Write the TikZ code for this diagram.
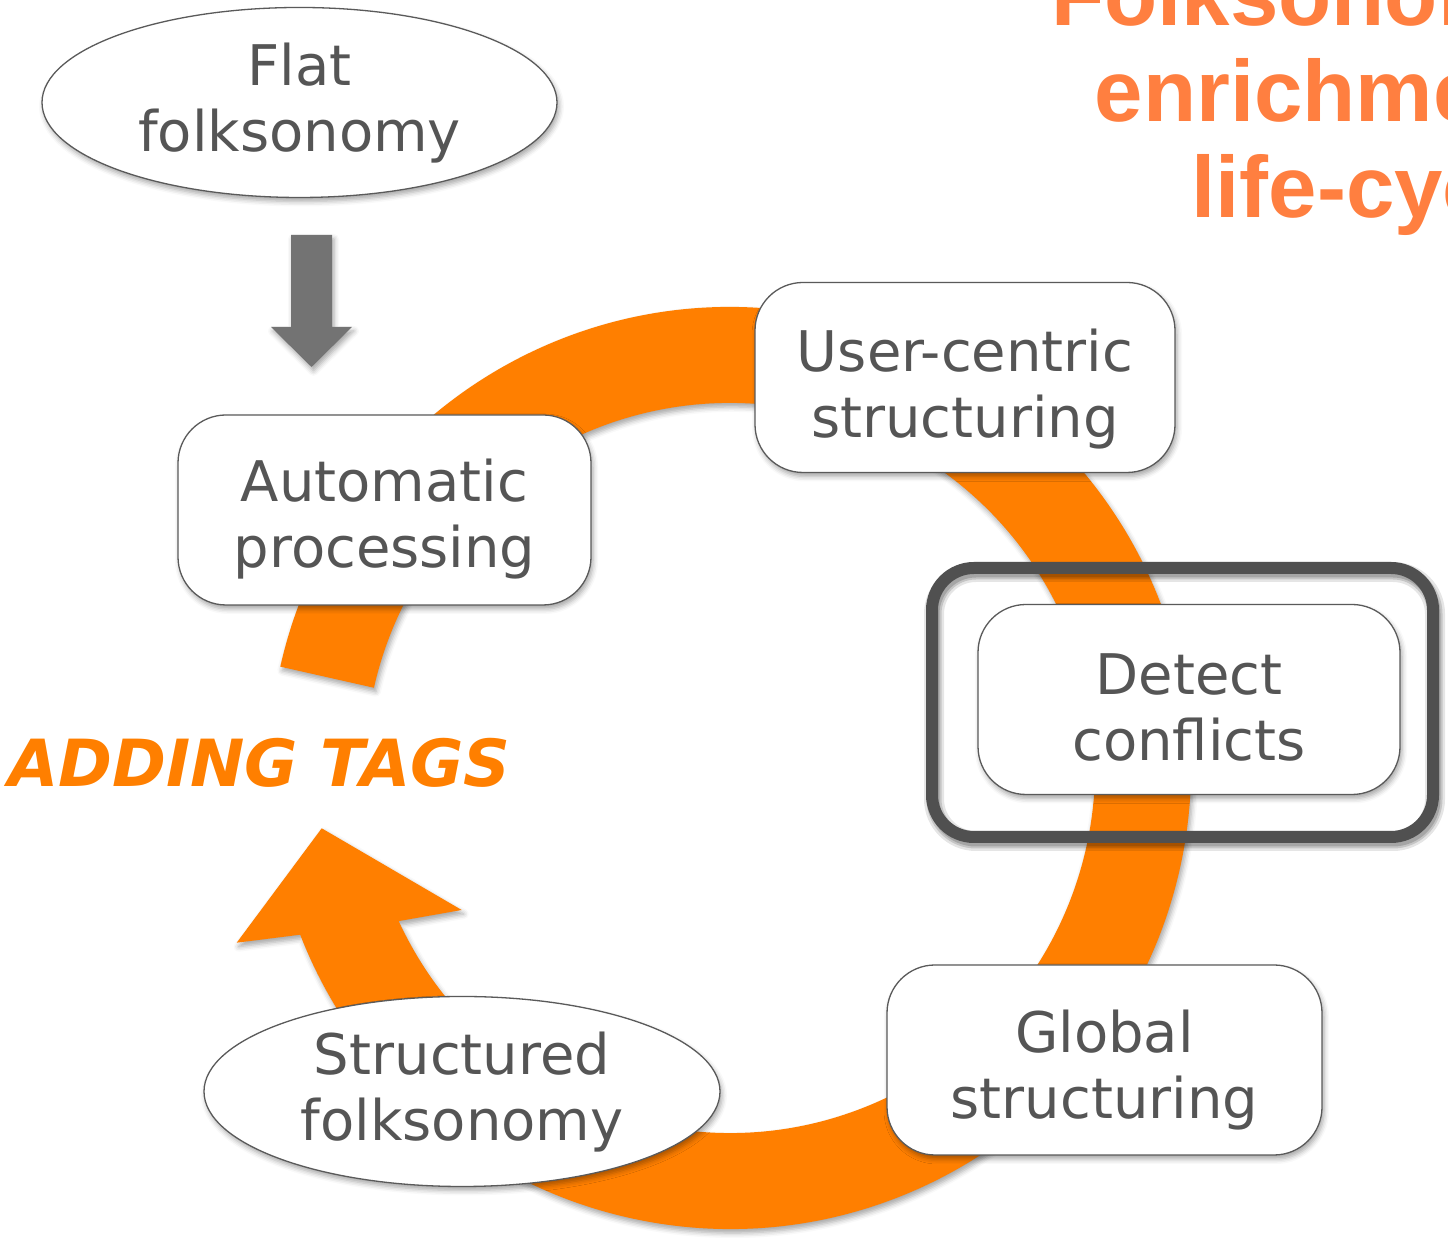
\documentclass[tikz,border=0pt]{standalone}
\usepackage{fontspec}
\setmainfont{DejaVu Sans}
\newfontfamily\titlefont{Liberation Sans}
\usetikzlibrary{shapes.geometric,shadows.blur}
\definecolor{ringorange}{HTML}{FF7F00}
\definecolor{titleorange}{HTML}{FF7F40}
\definecolor{txtgray}{HTML}{555555}
\definecolor{bordergray}{HTML}{5A5A5A}
\definecolor{framegray}{HTML}{505050}
\definecolor{arrowgray}{HTML}{737373}
\tikzset{
  softshadow/.style={blur shadow={shadow xshift=2pt, shadow yshift=-4pt, shadow blur radius=5pt, shadow opacity=35}},
  shapetext/.style={text=txtgray, align=center, inner sep=0pt, font={\fontsize{56}{66}\selectfont}},
  stepbox/.style={shapetext, draw=bordergray, line width=1.3pt, fill=white, rounded corners=48pt, softshadow, minimum width=#1, minimum height=190pt},
  ellbox/.style={shapetext, ellipse, draw=bordergray, line width=1.3pt, fill=white, softshadow, minimum width=515pt, minimum height=190pt, text height=99pt, text depth=0pt},
  tpos/.style={text height=150pt, text depth=#1},
  titletext/.style={text=titleorange, inner sep=0pt, anchor=base east, font={\titlefont\bfseries\fontsize{87}{96}\selectfont}},
  frameshadow/.style={black, opacity=#1, rounded corners=42pt}
}
\begin{document}
\begin{tikzpicture}[x=1pt,y=1pt]
\useasboundingbox (0,0) rectangle (1448,1238);
\clip (0,0) rectangle (1448,1238);

% orange cycle ring with arrow head
\begin{scope}[shift={(730,470)}]
\fill[ringorange, softshadow] (167.3:461) arc[start angle=167.3, end angle=-158.8, radius=461]
  -- (-493.3,-174.7) -- (-408.3,-60.3) -- (-268.3,-142)
  -- (-155.2:365) arc[start angle=-155.2, end angle=167.3, radius=365] -- cycle;
\end{scope}

% title
\node[titletext] (t1) at (1564,1212) {Folksonomy};
\node[titletext] (t2) at (1564,1116) {enrichment};
\node[titletext] (t3) at (1564,1020) {life-cycle};

% adding tags
\node[anchor=base west, inner sep=0pt, text=ringorange, font={\bfseries\itshape\fontsize{65}{72}\selectfont}] (adding) at (8,451) {ADDING TAGS};

% highlight frame with soft shadow
\draw[frameshadow=0.10, line width=20pt] (934,666) rectangle (1435,397);
\draw[frameshadow=0.14, line width=15pt] (934,666) rectangle (1435,397);
\draw[frameshadow=0.16, line width=11pt] (934,666) rectangle (1435,397);
\draw[framegray, line width=12pt, rounded corners=42pt] (932,670) rectangle (1433,401);

% nodes
\node[ellbox] (flat) at (299.5,1135.5) {Flat\\folksonomy};
\node[stepbox=413pt, tpos=34pt] (auto) at (384.5,728) {Automatic\\processing};
\node[stepbox=420pt, tpos=29pt] (user) at (965,860.5) {User-centric\\structuring};
\node[stepbox=422pt, tpos=27pt] (detect) at (1189,538.5) {Detect\\conflicts};
\node[stepbox=435pt, tpos=32pt] (global) at (1104.5,178) {Global\\structuring};
\node[ellbox, minimum width=516pt] (struct) at (462,146.5) {Structured\\folksonomy};

% gray block arrow from flat folksonomy to automatic processing
\coordinate (gtip) at (311.5,871);
\fill[arrowgray, softshadow] (291,1003) -- (332,1003) -- (332,911) -- (352,911) -- (gtip) -- (271,911) -- (291,911) -- cycle;
\end{tikzpicture}
\end{document}
